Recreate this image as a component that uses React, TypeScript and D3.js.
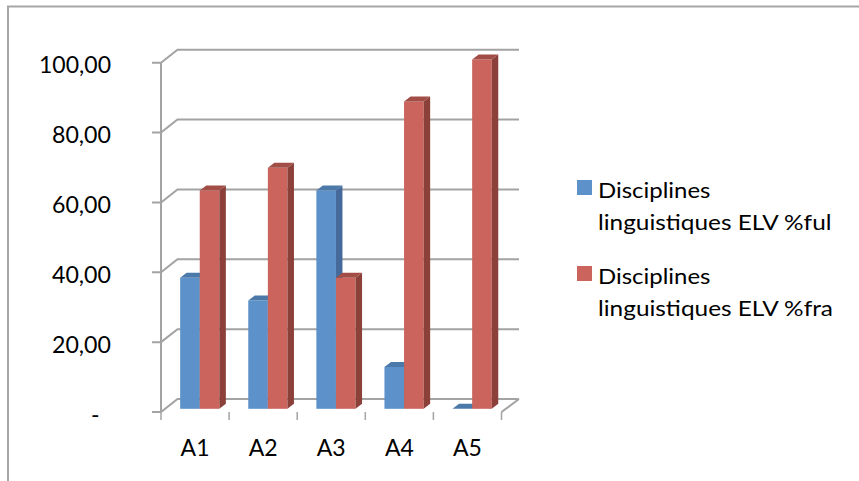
import React from "react";
import * as d3 from "d3";

const categories = ["A1", "A2", "A3", "A4", "A5"];
const fulValues = [37.5, 31, 62.5, 12, 0];
const fraValues = [62.5, 69, 37.5, 88, 100];
const yTicks = [0, 20, 40, 60, 80, 100];
const yLabels = ["-", "20,00", "40,00", "60,00", "80,00", "100,00"];
const legendFul = ["Disciplines", "linguistiques ELV %ful"];
const legendFra = ["Disciplines", "linguistiques ELV %fra"];

const FONT = "Lato, Carlito, 'Open Sans', sans-serif";
const GRID = "#a3a3a3";
const BLUE = { front: "#5c92c9", side: "#44699a", top: "#4b79aa" };
const RED = { front: "#cb645c", side: "#8b4039", top: "#a24e47" };

const x = d3.scaleBand<string>().domain(categories).range([161, 501.5]);
const y = d3.scaleLinear().domain([0, 100]).range([412, 62.7]);
const wallDx = 16.5;
const wallDy = -13;
const barInsetY = -3.2;
const barDx = 6.5;
const barDy = -5;
const barW = 19.6;

function Bar({ cx, v, c, offset }: { cx: number; v: number; c: typeof BLUE; offset: number }) {
  const x0 = cx + offset * barW;
  const x1 = x0 + barW;
  const yb = y(0) + barInsetY;
  const yt = y(v) + barInsetY;
  const poly = (p: number[][]) => p.map((q) => q.join(",")).join(" ");
  return (
    <g>
      {v > 0 && <rect x={x0} y={yt} width={barW} height={yb - yt} fill={c.front} />}
      {v > 0 && (
        <polygon
          points={poly([[x1, yt], [x1 + barDx, yt + barDy], [x1 + barDx, yb + barDy], [x1, yb]])}
          fill={c.side}
        />
      )}
      <polygon
        points={poly([[x0, yt], [x0 + barDx, yt + barDy], [x1 + barDx, yt + barDy], [x1, yt]])}
        fill={c.top}
      />
    </g>
  );
}

export default function App() {
  const ticksX = [...categories.map((c) => x(c)!), x.range()[1]];
  const legend = [
    { lines: legendFul, color: BLUE.front, sy: 180, ty: 197.5, w: 233.5 },
    { lines: legendFra, color: RED.front, sy: 266, ty: 283.5, w: 235 },
  ];
  return (
    <svg
      width={859}
      height={481}
      style={{ position: "absolute", left: 0, top: 0, background: "#fff" }}
      fontFamily={FONT}
    >
      <path d="M8 481V6.5H859" fill="none" stroke="#a6a6a6" strokeWidth={2} />

      {yTicks.map((t, i) => (
        <g key={t}>
          <path
            d={`M152 ${y(t)}H${x.range()[0]}L${x.range()[0] + wallDx} ${y(t) + wallDy}H${x.range()[1] + wallDx + 1}`}
            fill="none"
            stroke={GRID}
            strokeWidth={2}
          />
          <text
            x={i === 0 ? 99.5 : 111}
            y={y(t) + 10.5}
            textAnchor="end"
            fontSize={23}
            fill="#000"
            textLength={i === 0 ? undefined : i === 5 ? 72 : 59}
            lengthAdjust="spacingAndGlyphs"
          >
            {yLabels[i]}
          </text>
        </g>
      ))}
      <path
        d={`M${x.range()[1]} ${y(0)}L${x.range()[1] + wallDx + 1} ${y(0) + wallDy}`}
        stroke={GRID}
        strokeWidth={2}
      />
      <line x1={x.range()[0]} x2={x.range()[0]} y1={y(100)} y2={y(0)} stroke={GRID} strokeWidth={2} />
      {ticksX.map((tx) => (
        <line key={tx} x1={tx} x2={tx} y1={y(0)} y2={420} stroke={GRID} strokeWidth={1.5} />
      ))}

      {categories.map((c, i) => {
        const cx = x(c)! + x.bandwidth() / 2;
        return (
          <g key={c}>
            <Bar cx={cx} v={fulValues[i]} c={BLUE} offset={-0.76} />
            <Bar cx={cx} v={fraValues[i]} c={RED} offset={0.24} />
            <text x={cx} y={456} textAnchor="middle" fontSize={23} fill="#000">
              {c}
            </text>
          </g>
        );
      })}

      {legend.map((l) => (
        <g key={l.sy}>
          <rect x={577} y={l.sy} width={15} height={15} fill={l.color} />
          {l.lines.map((s, j) => (
            <text
              key={j}
              x={598}
              y={l.ty + j * 32}
              fontSize={22}
              fill="#000"
              textLength={j === 0 ? 112.5 : l.w}
              lengthAdjust="spacingAndGlyphs"
            >
              {s}
            </text>
          ))}
        </g>
      ))}
    </svg>
  );
}
